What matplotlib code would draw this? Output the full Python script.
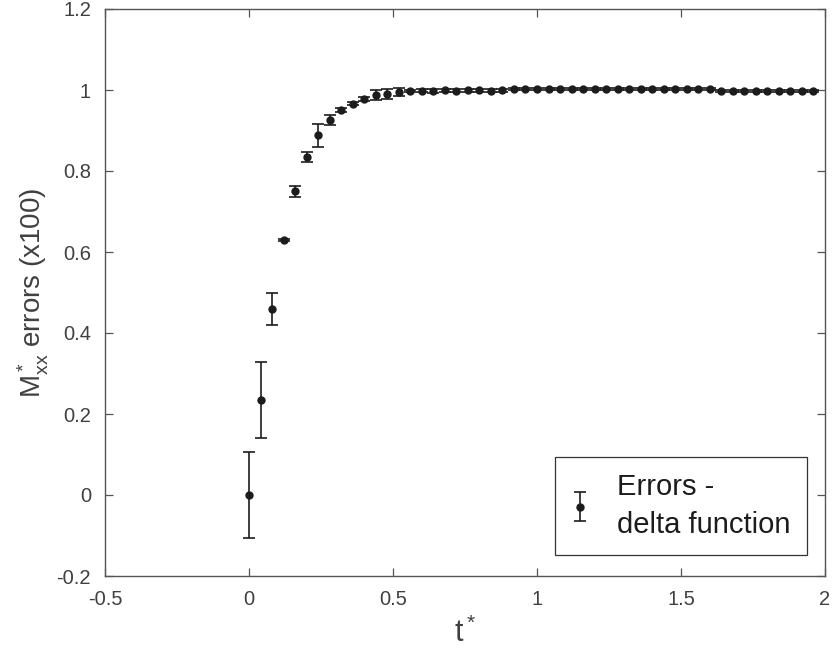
import matplotlib
matplotlib.use("Agg")
import matplotlib.pyplot as plt

plt.rcParams['font.family'] = ['Liberation Sans', 'DejaVu Sans']
plt.rcParams['mathtext.fontset'] = 'custom'
plt.rcParams['mathtext.rm'] = 'Liberation Sans'
plt.rcParams['mathtext.it'] = 'Liberation Sans'

# dimensionless time t*
t_star = [0.00, 0.04, 0.08, 0.12, 0.16, 0.20, 0.24, 0.28, 0.32, 0.36,
          0.40, 0.44, 0.48, 0.52, 0.56, 0.60, 0.64, 0.68, 0.72, 0.76,
          0.80, 0.84, 0.88, 0.92, 0.96, 1.00, 1.04, 1.08, 1.12, 1.16,
          1.20, 1.24, 1.28, 1.32, 1.36, 1.40, 1.44, 1.48, 1.52, 1.56,
          1.60, 1.64, 1.68, 1.72, 1.76, 1.80, 1.84, 1.88, 1.92, 1.96]

# M*_xx errors (x100)
m_xx = [0.000, 0.235, 0.459, 0.630, 0.750, 0.835, 0.888, 0.925, 0.950, 0.966,
        0.978, 0.987, 0.991, 0.995, 0.997, 0.998, 0.998, 0.999, 0.998, 0.999,
        0.999, 0.998, 0.999, 1.002, 1.003, 1.003, 1.003, 1.003, 1.003, 1.003,
        1.003, 1.003, 1.003, 1.003, 1.003, 1.003, 1.003, 1.003, 1.003, 1.003,
        1.003, 0.998, 0.998, 0.998, 0.998, 0.998, 0.998, 0.998, 0.998, 0.998]

# error bar half-widths
m_err = [0.105, 0.094, 0.039, 0.003, 0.013, 0.012, 0.029, 0.0125, 0.005, 0.004,
         0.004, 0.012, 0.012, 0.010, 0.003, 0.004, 0.005, 0.003, 0.004, 0.004,
         0.003, 0.004, 0.004, 0.002, 0.002, 0.002, 0.002, 0.002, 0.002, 0.002,
         0.002, 0.002, 0.002, 0.002, 0.002, 0.002, 0.002, 0.002, 0.002, 0.002,
         0.002, 0.002, 0.002, 0.002, 0.002, 0.002, 0.002, 0.002, 0.002, 0.002]

xticks = [-0.5, 0, 0.5, 1, 1.5, 2]
xticklabels = ['-0.5', '0', '0.5', '1', '1.5', '2']
yticks = [-0.2, 0, 0.2, 0.4, 0.6, 0.8, 1, 1.2]
yticklabels = ['-0.2', '0', '0.2', '0.4', '0.6', '0.8', '1', '1.2']

axcol = '#555555'
txtcol = '#404040'
fig = plt.figure(figsize=(8.32, 6.49), dpi=100)
ax = fig.add_axes([105/832, 73/649, 720/832, 567/649])

ax.errorbar(t_star, m_xx, yerr=m_err, fmt='o', color='#1c1c1c',
            markersize=5, elinewidth=1.2, capsize=4.3, capthick=1.2,
            label='Errors -\ndelta function')

ax.set_xlim(-0.5, 2)
ax.set_ylim(-0.2, 1.2)
ax.set_xticks(xticks)
ax.set_xticklabels(xticklabels)
ax.set_yticks(yticks)
ax.set_yticklabels(yticklabels)
ax.tick_params(direction='in', length=6, width=0.9, color=axcol,
               labelcolor=txtcol, labelsize=14.5, top=True, right=True, pad=10)
for s in ax.spines.values():
    s.set_color(axcol)
    s.set_linewidth(1.0)

ax.set_xlabel('t$^*$', fontsize=22, color=txtcol, labelpad=6)
ax.set_ylabel('M$^*_{xx}$ errors (x100)', fontsize=20, color=txtcol, labelpad=4)

leg = ax.legend(loc='lower right', fontsize=21, frameon=True, fancybox=False,
                edgecolor='#333333', framealpha=1, borderpad=0.55,
                handlelength=0.6, handletextpad=1.0, borderaxespad=0,
                bbox_to_anchor=(0.975, 0.037))
leg.get_frame().set_linewidth(0.9)
for txt in leg.get_texts():
    txt.set_linespacing(1.45)
    txt.set_color('#1c1c1c')

fig.savefig('out.png', dpi=100)
